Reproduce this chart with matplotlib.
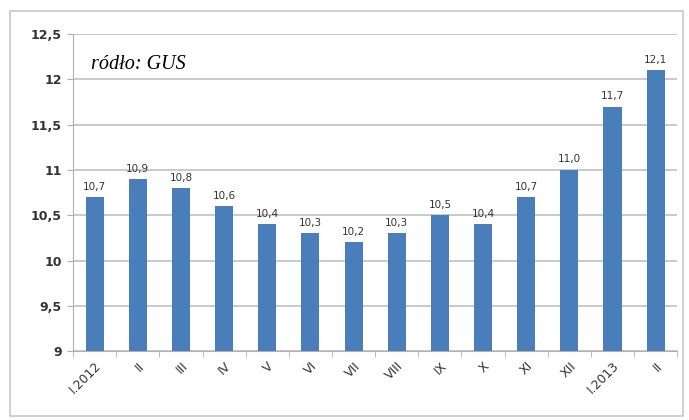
import matplotlib
matplotlib.use("Agg")
import matplotlib.pyplot as plt
from matplotlib.patches import Rectangle

# data
months = ["I.2012", "II", "III", "IV", "V", "VI", "VII", "VIII", "IX", "X", "XI", "XII", "I.2013", "II"]
rate = [10.7, 10.9, 10.8, 10.6, 10.4, 10.3, 10.2, 10.3, 10.5, 10.4, 10.7, 11.0, 11.7, 12.1]
yticks = [9, 9.5, 10, 10.5, 11, 11.5, 12, 12.5]

fig = plt.figure(figsize=(6.89, 4.20), dpi=100)
ax = fig.add_axes([0.106, 0.164, 0.877, 0.755])

# outer frame round the chart
fig.patches.append(Rectangle((0.014, 0.01), 0.978, 0.963, transform=fig.transFigure,
                             fill=False, edgecolor="#c8c8c8", linewidth=1.2))

x = list(range(len(months)))
ax.bar(x, rate, width=0.42, color="#4a7ebb", zorder=3)

for xi, v in zip(x, rate):
    ax.text(xi, v + 0.06, f"{v:.1f}".replace(".", ","), ha="center", va="bottom",
            fontsize=7.5, color="#333333")

ax.set_ylim(9, 12.5)
ax.set_xlim(-0.5, len(months) - 0.5)
ax.set_yticks(yticks)
ax.set_yticklabels([f"{t:g}".replace(".", ",") for t in yticks], fontweight="bold",
                   fontsize=9, color="#333333")
ax.yaxis.grid(True, color="#c0c0c0", linewidth=1.2, zorder=0)

ax.set_xticks(x)
ax.set_xticklabels(months, rotation=45, ha="right", rotation_mode="anchor", fontsize=9,
                   color="#333333")
ax.set_xticks([i - 0.5 for i in range(len(months) + 1)], minor=True)
ax.tick_params(axis="x", which="major", length=0, pad=6)
ax.tick_params(axis="x", which="minor", length=4, color="#b0b0b0")
ax.tick_params(axis="y", length=4, color="#b0b0b0", pad=4)

for s in ["top", "right"]:
    ax.spines[s].set_visible(False)
ax.spines["left"].set_color("#b0b0b0")
ax.spines["bottom"].set_color("#b0b0b0")

ax.text(0.03, 0.905, "ródło: GUS", transform=ax.transAxes, fontsize=14.5, style="italic",
        family="Liberation Serif", color="black", va="center")

fig.savefig("out.png", dpi=100)
